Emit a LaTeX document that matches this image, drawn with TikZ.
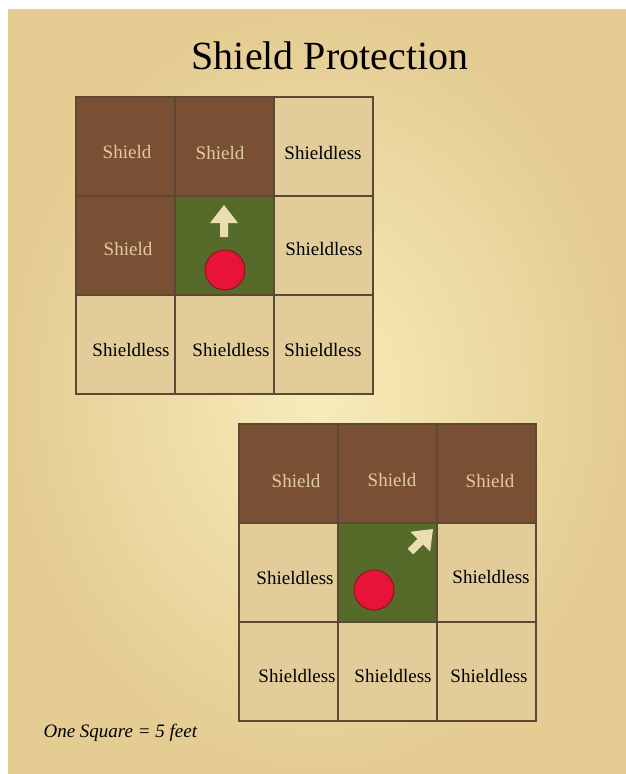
\documentclass[tikz,border=0pt]{standalone}
\usepackage{fontspec}
\setmainfont{Liberation Serif}
\definecolor{parchlight}{RGB}{248,236,186}
\definecolor{parchdark}{RGB}{228,204,146}
\definecolor{shieldbrown}{RGB}{122,80,52}
\definecolor{shieldtext}{RGB}{226,204,156}
\definecolor{freebeige}{RGB}{226,204,154}
\definecolor{homegreen}{RGB}{86,107,42}
\definecolor{gridline}{RGB}{92,72,52}
\definecolor{dotred}{RGB}{230,20,55}
\definecolor{dotedge}{RGB}{140,20,30}
\definecolor{arrowcream}{RGB}{232,222,175}
\begin{document}
\begin{tikzpicture}[x=1pt,y=-1pt,
  cellbox/.style={draw=gridline, line width=2pt, minimum width=99pt, minimum height=99pt, inner sep=0pt, text depth=0pt, font=\fontsize{19}{21}\selectfont},
  shieldcell/.style={cellbox, fill=shieldbrown, text=shieldtext},
  freecell/.style={cellbox, fill=freebeige, text=black},
  homecell/.style={cellbox, fill=homegreen},
  celltext/.style={font=\fontsize{19}{21}\selectfont, inner sep=0pt},
  reddot/.style={circle, fill=dotred, draw=dotedge, line width=1pt, minimum size=40pt, inner sep=0pt},
  arrowshape/.style={fill=arrowcream}
]
\useasboundingbox (0,0) rectangle (626,774);
\fill[white] (0,0) rectangle (626,774);
\fill[parchlight] (8,9) rectangle (626,774);
\shade[inner color=parchlight, outer color=parchdark] (8,9) rectangle (626,774);

\node[font=\fontsize{40}{44}\selectfont] (title) at (330,56) {Shield Protection};

% grid 1
\node[shieldcell] (a11) at (125.5,146.5) {};
\node[shieldcell] (a12) at (224.5,146.5) {};
\node[freecell]   (a13) at (323.5,146.5) {};
\node[shieldcell] (a21) at (125.5,245.5) {};
\node[homecell]   (a22) at (224.5,245.5) {};
\node[freecell]   (a23) at (323.5,245.5) {};
\node[freecell]   (a31) at (125.5,344.5) {};
\node[freecell]   (a32) at (224.5,344.5) {};
\node[freecell]   (a33) at (323.5,344.5) {};
\node[celltext, text=shieldtext] (ta11) at (127,152) {Shield};
\node[celltext, text=shieldtext] (ta12) at (220,153) {Shield};
\node[celltext] (ta13) at (323,153) {Shieldless};
\node[celltext, text=shieldtext] (ta21) at (128,249) {Shield};
\node[celltext] (ta23) at (324,249) {Shieldless};
\node[celltext] (ta31) at (131,350) {Shieldless};
\node[celltext] (ta32) at (231,350) {Shieldless};
\node[celltext] (ta33) at (323,350) {Shieldless};
\node[reddot] (dotA) at (225,270) {};
\fill[arrowshape] (224,205) -- (238,223) -- (228,223) -- (228,237) -- (220,237) -- (220,223) -- (210,223) -- cycle;

% grid 2
\node[shieldcell] (b11) at (288.5,473.5) {};
\node[shieldcell] (b12) at (387.5,473.5) {};
\node[shieldcell] (b13) at (486.5,473.5) {};
\node[freecell]   (b21) at (288.5,572.5) {};
\node[homecell]   (b22) at (387.5,572.5) {};
\node[freecell]   (b23) at (486.5,572.5) {};
\node[freecell]   (b31) at (288.5,671.5) {};
\node[freecell]   (b32) at (387.5,671.5) {};
\node[freecell]   (b33) at (486.5,671.5) {};
\node[celltext, text=shieldtext] (tb11) at (296,481) {Shield};
\node[celltext, text=shieldtext] (tb12) at (392,480) {Shield};
\node[celltext, text=shieldtext] (tb13) at (490,481) {Shield};
\node[celltext] (tb21) at (295,578) {Shieldless};
\node[celltext] (tb23) at (491,577) {Shieldless};
\node[celltext] (tb31) at (297,676) {Shieldless};
\node[celltext] (tb32) at (393,676) {Shieldless};
\node[celltext] (tb33) at (489,676) {Shieldless};
\node[reddot] (dotB) at (374,590) {};
\fill[arrowshape] (433,529) -- ++(-2.8,22.6) -- ++(-7.1,-7.1) -- ++(-9.9,9.9) -- ++(-5.6,-5.6) -- ++(9.9,-9.9) -- ++(-7.1,-7.1) -- cycle;

\node[anchor=west, font=\fontsize{19}{21}\selectfont\itshape] (note) at (40,733) {One Square = 5 feet};
\end{tikzpicture}
\end{document}
